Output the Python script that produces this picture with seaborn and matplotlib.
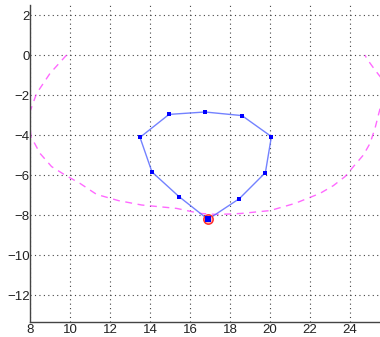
import matplotlib
matplotlib.use("Agg")
import matplotlib.pyplot as plt
import seaborn as sns
import pandas as pd

# Polygon (blue) vertices, closed loop
poly_x = [16.9, 15.45, 14.1, 13.5, 14.95, 16.75, 18.6, 20.07, 19.77, 18.47, 16.9]
poly_y = [-8.22, -7.08, -5.85, -4.12, -2.97, -2.85, -3.03, -4.08, -5.88, -7.18, -8.22]

# Magenta dashed arc
arc_x = [9.83, 9.0, 8.33, 8.0, 7.98, 8.05, 8.5, 9.08, 9.75, 10.5, 11.33, 12.42, 13.58,
         15.33, 16.5, 17.3, 18.0, 18.58, 20.0, 21.25, 22.5, 23.17, 23.75, 24.17, 24.67,
         25.0, 25.25, 25.42, 25.6, 25.7, 25.6, 25.25, 24.83, 24.75]
arc_y = [0.0, -0.92, -1.92, -2.83, -3.4, -4.08, -4.92, -5.58, -6.0, -6.42, -6.97, -7.28, -7.5,
         -7.67, -7.92, -7.97, -7.95, -7.92, -7.78, -7.42, -6.92, -6.53, -6.08, -5.58, -5.0,
         -4.42, -3.67, -3.0, -2.3, -1.7, -1.2, -0.75, -0.17, 0.0]

# Highlighted point
hl_x = [16.88]
hl_y = [-8.2]

x_ticks = [8, 10, 12, 14, 16, 18, 20, 22, 24]
y_ticks = [-12, -10, -8, -6, -4, -2, 0, 2]

sns.set_theme(style="white")
plt.rcParams['font.family'] = ['Liberation Sans', 'DejaVu Sans']

fig = plt.figure(figsize=(3.8, 3.37), dpi=100)
ax = fig.add_axes([30/380, 1-322/337, 350/380, 317/337])

arc_df = pd.DataFrame({"x": arc_x, "y": arc_y})
poly_df = pd.DataFrame({"x": poly_x, "y": poly_y})

sns.lineplot(data=arc_df, x="x", y="y", sort=False, estimator=None, ax=ax,
             color="#ff44ff", linestyle=(0, (5, 4)), linewidth=1.0, alpha=0.8)
sns.lineplot(data=poly_df, x="x", y="y", sort=False, estimator=None, ax=ax,
             color="#5b6cff", linewidth=1.0, alpha=0.85)
sns.scatterplot(data=poly_df.iloc[:-1], x="x", y="y", ax=ax, color="#0000ff",
                marker="s", s=10, linewidth=0, zorder=5)
sns.scatterplot(x=hl_x, y=hl_y, ax=ax, s=45, facecolor="#ffb8b8",
                edgecolor="#ff3030", linewidth=1.1, zorder=4)
sns.scatterplot(x=hl_x, y=hl_y, ax=ax, color="#0000ff", marker="s", s=14,
                linewidth=0, zorder=6)

ax.set_xlim(8, 25.5)
ax.set_ylim(-13.35, 2.5)
ax.set_xticks(x_ticks)
ax.set_yticks(y_ticks)
ax.set_xticklabels([str(t) for t in x_ticks])
ax.set_yticklabels(["\u2212" + str(-t) if t < 0 else str(t) for t in y_ticks])
ax.set_xlabel("")
ax.set_ylabel("")
ax.grid(True, linestyle=(0, (1, 3)), color="#444444", linewidth=0.8)
ax.tick_params(direction="in", length=3, labelsize=9.5, colors="#222222", pad=0.3)
ax.tick_params(axis="x", pad=1.5)
for s in ["top", "right"]:
    ax.spines[s].set_visible(False)
for s in ["left", "bottom"]:
    ax.spines[s].set_color("#444444")
    ax.spines[s].set_linewidth(1.0)

fig.savefig("out.png", dpi=100)
